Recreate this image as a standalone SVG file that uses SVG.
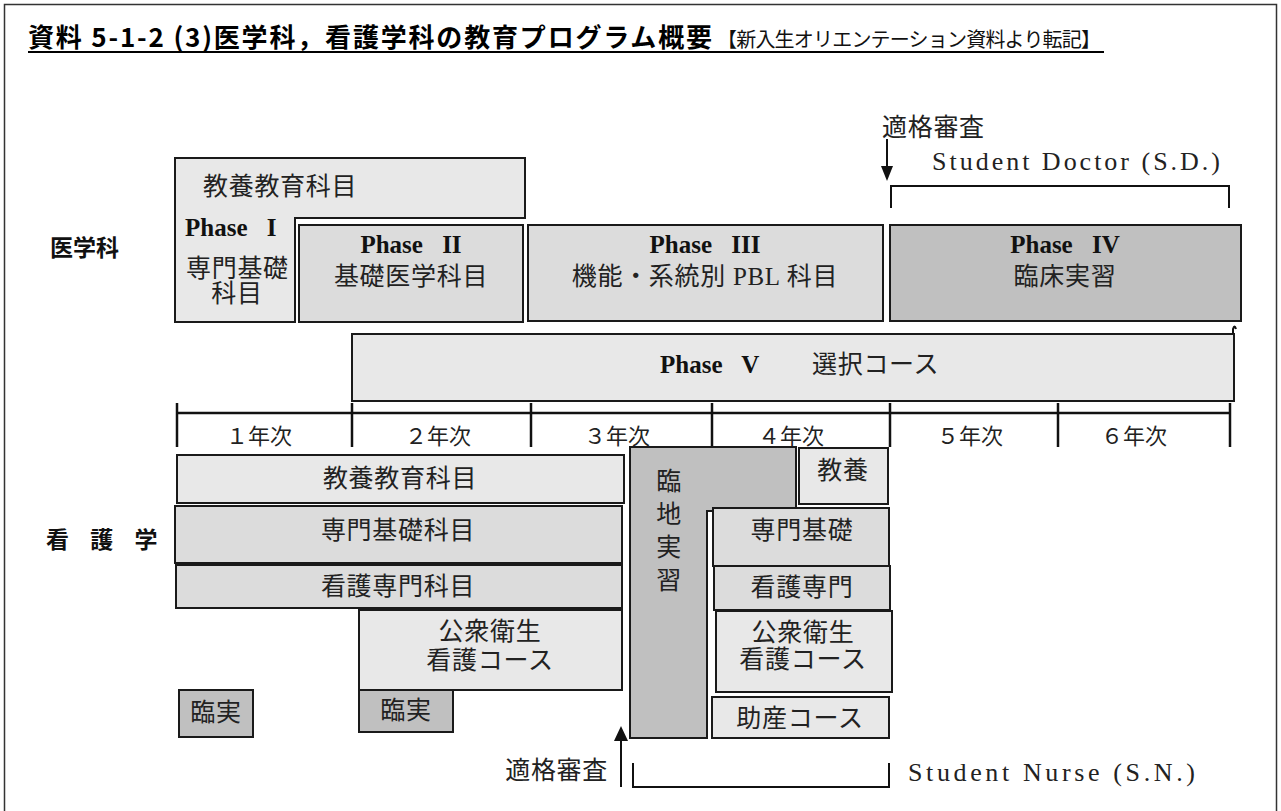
<svg xmlns="http://www.w3.org/2000/svg" width="1281" height="811" viewBox="0 0 1281 811">
<defs>
<style>
.bx{stroke:#1a1a1a;stroke-width:2}
.l1{fill:#e8e8e8}.l2{fill:#dcdcdc}.l3{fill:#c0c0c0}
.jp{font-family:"Liberation Serif","Noto Sans CJK JP",serif;font-size:25px;fill:#222;letter-spacing:0.7px}
.ph{font-family:"Liberation Serif","Noto Sans CJK JP",serif;font-size:25px;font-weight:bold;fill:#111;word-spacing:13px}
.yr{font-family:"Liberation Serif","Noto Sans CJK JP",serif;font-size:22px;fill:#222;text-anchor:middle}
.lb{font-family:"Noto Sans CJK JP",sans-serif;font-size:23px;font-weight:bold;fill:#111}
.en{font-family:"Liberation Serif","Noto Sans CJK JP",serif;font-size:26px;fill:#222}
.mid{text-anchor:middle}
.ln{stroke:#111;stroke-width:2;fill:none}
.tk{stroke:#111;stroke-width:2.5}
</style>
</defs>
<rect x="4.5" y="4.5" width="1272" height="830" fill="#fff" stroke="#333" stroke-width="1.5"/>
<g id="title">
<text x="28" y="47" font-family="'Noto Sans CJK JP',sans-serif" font-size="26" font-weight="bold" fill="#000" textLength="684" lengthAdjust="spacing">資料 5-1-2 (3)医学科，看護学科の教育プログラム概要</text>
<text x="717" y="47" font-family="'Noto Sans CJK JP',sans-serif" font-size="20" fill="#111" textLength="384" lengthAdjust="spacing">【新入生オリエンテーション資料より転記】</text>
<line x1="28" y1="52" x2="1104" y2="52" stroke="#000" stroke-width="2"/>
</g>
<g id="label-igaku"><text class="lb" x="50" y="256">医学科</text></g>
<g id="label-kango"><text class="lb" x="46" y="548" letter-spacing="8">看 護 学</text></g>

<g id="phase1">
<polygon class="bx l1" points="175,158 525,158 525,218 295,218 295,322 175,322"/>
<text class="jp" x="203" y="195">教養教育科目</text>
<text class="ph" x="185" y="236">Phase I</text>
<text class="jp" x="186" y="277">専門基礎</text>
<text class="jp mid" x="237" y="302">科目</text>
</g>
<g id="phase2">
<rect class="bx l2" x="299" y="225" width="224" height="97"/>
<text class="ph mid" x="411" y="253">Phase II</text>
<text class="jp mid" x="411" y="285">基礎医学科目</text>
</g>
<g id="phase3">
<rect class="bx l2" x="528" y="225" width="355" height="96"/>
<text class="ph mid" x="705" y="253">Phase III</text>
<text class="jp mid" x="705" y="285">機能・系統別 PBL 科目</text>
</g>
<g id="phase4">
<rect class="bx l3" x="890" y="225" width="351" height="96"/>
<text class="ph mid" x="1065" y="253">Phase IV</text>
<text class="jp mid" x="1065" y="285">臨床実習</text>
</g>
<g id="phase5">
<rect class="bx l1" x="352" y="334" width="882" height="67"/>
<path class="ln" d="M1233,334 V329 Q1234.5,324 1236,329" stroke-width="1.5"/>
<text class="ph" x="660" y="373">Phase V</text>
<text class="jp" x="812" y="373">選択コース</text>
</g>

<g id="timeline">
<line class="tk" x1="177" y1="413" x2="1229" y2="413"/>
<line class="tk" x1="177" y1="403" x2="177" y2="447"/>
<line class="tk" x1="352" y1="403" x2="352" y2="447"/>
<line class="tk" x1="531" y1="403" x2="531" y2="447"/>
<line class="tk" x1="712" y1="403" x2="712" y2="447"/>
<line class="tk" x1="890" y1="403" x2="890" y2="447"/>
<line class="tk" x1="1058" y1="403" x2="1058" y2="447"/>
<line class="tk" x1="1230" y1="403" x2="1230" y2="447"/>
<text class="yr" x="259" y="444">１年次</text>
<text class="yr" x="438" y="444">２年次</text>
<text class="yr" x="617" y="444">３年次</text>
<text class="yr" x="791" y="444">４年次</text>
<text class="yr" x="970" y="444">５年次</text>
<text class="yr" x="1134" y="444">６年次</text>
</g>

<g id="n-kyoyo">
<rect class="bx l1" x="177" y="455" width="447" height="48"/>
<text class="jp mid" x="400" y="487">教養教育科目</text>
</g>
<g id="n-senmonkiso">
<rect class="bx l2" x="175" y="506" width="447" height="57"/>
<text class="jp mid" x="398" y="539">専門基礎科目</text>
</g>
<g id="n-kangosenmon">
<rect class="bx l2" x="176" y="565" width="446" height="43"/>
<text class="jp mid" x="398" y="595">看護専門科目</text>
</g>
<g id="n-koshu">
<rect class="bx l1" x="359" y="610" width="263" height="80"/>
<text class="jp mid" x="490" y="640">公衆衛生</text>
<text class="jp mid" x="490" y="669">看護コース</text>
</g>
<g id="n-rinjitsu1">
<rect class="bx l3" x="179" y="690" width="74" height="47"/>
<text class="jp mid" x="216" y="721">臨実</text>
</g>
<g id="n-rinjitsu2">
<rect class="bx l3" x="359" y="690" width="94" height="42"/>
<text class="jp mid" x="406" y="719">臨実</text>
</g>
<g id="n-rinchi">
<polygon class="bx l3" points="630,447 796,447 796,511 707,511 707,738 630,738"/>
<text class="jp mid" x="669" y="490">臨<tspan x="669" dy="33">地</tspan><tspan x="669" dy="33">実</tspan><tspan x="669" dy="33">習</tspan></text>
</g>
<g id="n-kyoyo4">
<rect class="bx l1" x="799" y="448" width="89" height="56"/>
<text class="jp mid" x="843" y="479">教養</text>
</g>
<g id="n-senmonkiso4">
<rect class="bx l2" x="713" y="508" width="176" height="58"/>
<text class="jp mid" x="802" y="539">専門基礎</text>
</g>
<g id="n-kangosenmon4">
<rect class="bx l2" x="714" y="566" width="176" height="44"/>
<text class="jp mid" x="802" y="596">看護専門</text>
</g>
<g id="n-koshu4">
<rect class="bx l1" x="716" y="611" width="176" height="81"/>
<text class="jp mid" x="803" y="641">公衆衛生</text>
<text class="jp mid" x="803" y="668">看護コース</text>
</g>
<g id="n-josan">
<rect class="bx l1" x="712" y="697" width="177" height="41"/>
<text class="jp mid" x="800" y="727">助産コース</text>
</g>

<g id="connectors">
<line class="ln" x1="887" y1="139" x2="887" y2="168"/>
<polygon points="881,166 893,166 887,181" fill="#111"/>
<text class="jp" x="882" y="136">適格審査</text>
<path class="ln" d="M891,208 V186 H1229 V208"/>
<text class="en" x="932" y="170" textLength="288" lengthAdjust="spacing">Student Doctor (S.D.)</text>
<line class="ln" x1="621" y1="787" x2="621" y2="738"/>
<polygon points="614,741 628,741 621,726" fill="#111"/>
<text class="jp" x="608" y="779" text-anchor="end">適格審査</text>
<path class="ln" d="M633,763 V787 H889 V763"/>
<text class="en" x="908" y="781" textLength="287" lengthAdjust="spacing">Student Nurse (S.N.)</text>
</g>
</svg>
